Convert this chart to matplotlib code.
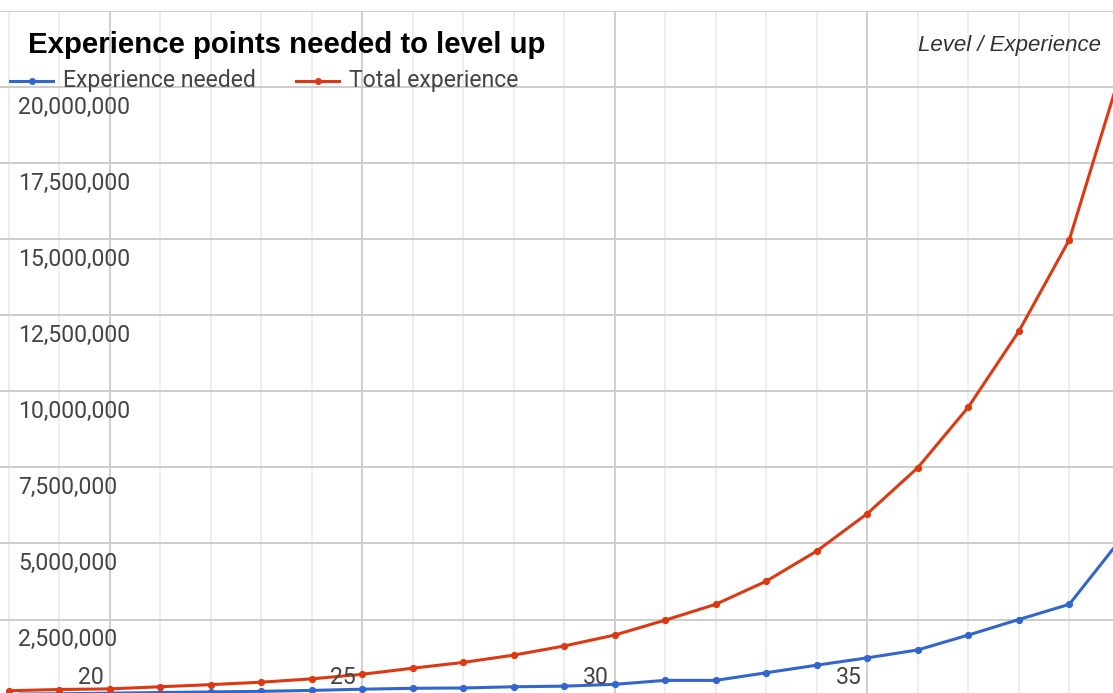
import matplotlib
matplotlib.use("Agg")
import matplotlib.pyplot as plt
from matplotlib.lines import Line2D

levels = list(range(18, 41))
experience_needed = [0.05, 0.06, 0.08, 0.10, 0.12, 0.14, 0.17, 0.21, 0.24, 0.25, 0.29, 0.31,
                     0.37, 0.50, 0.50, 0.75, 1.00, 1.24, 1.50, 1.99, 2.50, 3.00, 5.10]
total_experience = [0.16, 0.20, 0.22, 0.29, 0.36, 0.44, 0.55, 0.70, 0.90, 1.09, 1.33, 1.63,
                    1.99, 2.48, 3.00, 3.76, 4.75, 5.98, 7.49, 9.48, 11.97, 14.98, 20.40]
experience_needed = [v * 1e6 for v in experience_needed]
total_experience = [v * 1e6 for v in total_experience]
y_ticks = [2500000, 5000000, 7500000, 10000000, 12500000, 15000000, 17500000, 20000000]
x_tick_labels = [20, 25, 30, 35]

title = "Experience points needed to level up"
axis_title = "Level / Experience"
series_names = ["Experience needed", "Total experience"]
colors = ["#3366cc", "#dc3912"]

W, H = 1113, 693
fig = plt.figure(figsize=(W / 100, H / 100), dpi=100)
top_px = 11
ax = fig.add_axes([0, 0, 1, (H - top_px) / H])
ax.set_xlim(17.83, 39.865)
ax.set_ylim(0.085e6, 22.5e6)

# grid
for L in range(18, 41):
    major = (L % 5 == 0)
    ax.axvline(L, color="#cccccc" if major else "#ebebeb", lw=1.3 if major else 1.2, zorder=0)
for v in y_ticks + [22500000]:
    ax.axhline(v, color="#cccccc", lw=1.4, zorder=0)

for name, vals, c in zip(series_names, [experience_needed, total_experience], colors):
    ax.plot(levels, vals, color=c, lw=2.2, marker="o", ms=4.2, zorder=3, solid_capstyle="round")

for s in ax.spines.values():
    s.set_visible(False)
ax.set_xticks([])
ax.set_yticks([])

label_font = dict(family="Roboto", fontsize=16.6, color="#444444")
for v in y_ticks:
    ax.annotate(f"{v:,}", xy=(0, v), xycoords=("axes fraction", "data"),
                xytext=(18, -20), textcoords="offset pixels", ha="left", va="center", **label_font)
for L in x_tick_labels:
    ax.annotate(str(L), xy=(L, 0.085e6), xycoords="data",
                xytext=(-6, 15), textcoords="offset pixels", ha="right", va="center", **label_font)

fig.text(28 / W, 1 - 45 / H, title, fontsize=21.2, fontweight="bold", family="Liberation Sans",
         ha="left", va="center", color="#000000")
fig.text(1101 / W, 1 - 46 / H, axis_title, fontsize=16, style="italic", family="Liberation Sans",
         ha="right", va="center", color="#333333")

# legend
ly = 1 - 81 / H
for name, c, tx in zip(series_names, colors, [63, 349]):
    sx = tx - 53
    fig.add_artist(Line2D([sx / W, (sx + 43) / W], [ly, ly], color=c, lw=2.2, transform=fig.transFigure))
    fig.add_artist(Line2D([(sx + 21.5) / W], [ly], color=c, marker="o", ms=4, transform=fig.transFigure))
    fig.text(tx / W, ly, name, ha="left", va="center", **label_font)

fig.savefig("out.png", dpi=100)
